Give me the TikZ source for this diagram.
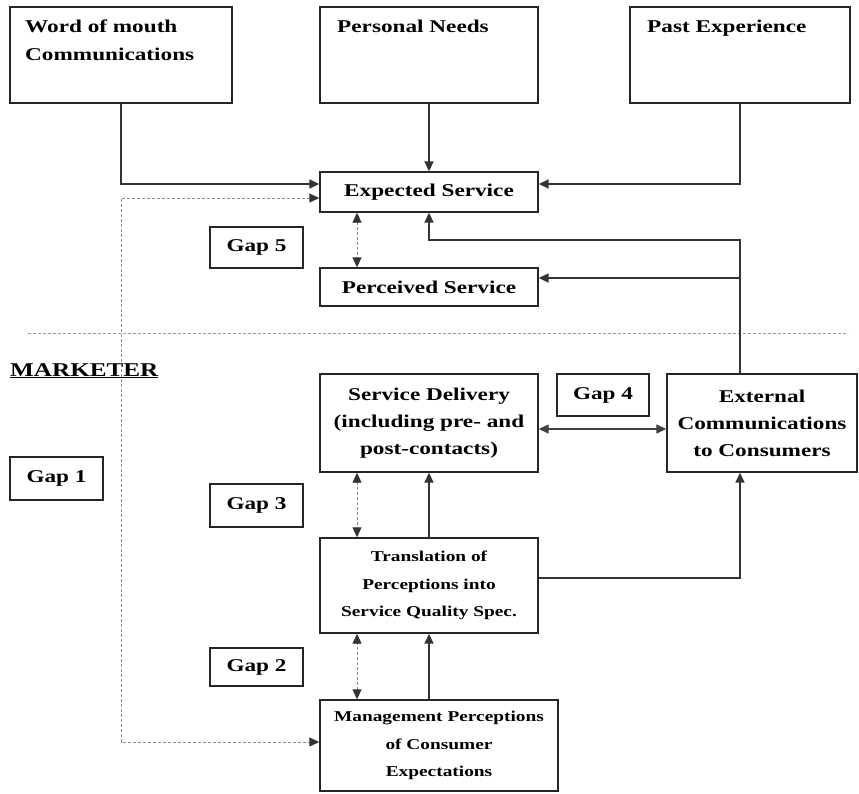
\documentclass[tikz,border=0pt]{standalone}
\usepackage{fontspec}
\setmainfont[FakeStretch=1.29]{Liberation Serif}
\usetikzlibrary{arrows.meta}
\begin{document}
\begin{tikzpicture}[x=1pt,y=-1pt,
  box/.style={draw=black!85, line width=1.4pt, rectangle, inner sep=0pt, align=center,
    font=\bfseries\fontsize{18}{27}\selectfont, text=black},
  smallbox/.style={box, font=\bfseries\fontsize{15}{27.5}\selectfont},
  lbl/.style={inner sep=0pt, align=left, font=\bfseries\fontsize{18}{28}\selectfont, text=black},
  conn/.style={draw=black!80, line width=1.8pt, -{Triangle[length=10pt,width=9pt]}},
  thin/.style={draw=black!75, line width=1.2pt, {Triangle[length=10pt,width=9pt]}-{Triangle[length=10pt,width=9pt]}},
  dotconn/.style={draw=black!45, line width=0.9pt, dash pattern=on 3pt off 2pt, {Triangle[length=10pt,width=9pt,color=black!80]}-{Triangle[length=10pt,width=9pt,color=black!80]}},
  sep/.style={draw=black!40, line width=0.9pt, dash pattern=on 3pt off 2pt}
]
\useasboundingbox (0,0) rectangle (859,793);

% top boxes
\node[box, minimum width=222pt, minimum height=96pt] (wom) at (121,55) {};
\node[box, minimum width=218pt, minimum height=96pt] (pn) at (429,55) {};
\node[box, minimum width=220pt, minimum height=96pt] (pe) at (740,55) {};
\node[lbl, anchor=north west] (womt) at (25,20) {Word of mouth\\Communications};
\node[lbl, anchor=north west] (pnt) at (337,20) {Personal Needs};
\node[lbl, anchor=north west] (pet) at (647,20) {Past Experience};

% consumer side
\node[box, minimum width=218pt, minimum height=40pt] (exp) at (429,192) {Expected Service};
\node[box, minimum width=218pt, minimum height=38pt] (perc) at (429,287) {Perceived Service};
\node[box, minimum width=93pt, minimum height=41pt] (gap5) at (256.5,247.5) {Gap 5};

% separator and label
\draw[sep] (28,333) -- (848,333);
\node[lbl, anchor=base west, font=\bfseries\fontsize{19.5}{24}\selectfont] (mkt) at (10,376) {\underline{MARKETER}};

% marketer side
\node[box, minimum width=218pt, minimum height=98pt] (sd) at (429,423) {Service Delivery\\(including pre- and\\post-contacts)};
\node[box, minimum width=190pt, minimum height=98pt] (ext) at (762,423) {External\\Communications\\to Consumers};
\node[box, minimum width=92pt, minimum height=42pt] (gap4) at (603,395) {Gap 4};
\node[box, minimum width=93pt, minimum height=43pt] (gap1) at (56.5,478.5) {Gap 1};
\node[box, minimum width=93pt, minimum height=43pt] (gap3) at (256.5,505.5) {Gap 3};
\node[smallbox, minimum width=218pt, minimum height=95pt] (tr) at (429,585.5) {Translation of\\Perceptions into\\Service Quality Spec.};
\node[box, minimum width=93pt, minimum height=38pt] (gap2) at (256.5,667) {Gap 2};
\node[smallbox, minimum width=238pt, minimum height=91pt] (mgmt) at (439,745.5) {Management Perceptions\\of Consumer\\Expectations};

% connectors into Expected Service
\draw[conn] (wom.south) |- ([yshift=8pt]exp.west);
\draw[conn] (pn.south) -- (exp.north);
\draw[conn] (pe.south) |- ([yshift=8pt]exp.east);

% Gap 1 dotted loop
\coordinate (g1a) at (121,198);
\coordinate (g1b) at (121,742);
\draw[dotconn] ([yshift=-6pt]exp.west) -- (g1a) -- (g1b) -- ([yshift=3.5pt]mgmt.west);

% Gap 5
\draw[dotconn] ([xshift=-72pt]exp.south) -- ([xshift=-72pt]perc.north);

% External communications feedback
\coordinate (j1) at (740,240);
\coordinate (j2) at (740,278);
\draw[conn] ([xshift=-22pt]ext.north) -- (j1) -| (exp.south);
\draw[conn] (j2) -- ([yshift=9pt]perc.east);

% Gap 4
\draw[thin] ([yshift=-6pt]sd.east) -- ([yshift=-6pt]ext.west);

% Gap 3
\draw[dotconn] ([xshift=-72pt]sd.south) -- ([xshift=-72pt]tr.north);
\draw[conn] (tr.north) -- (sd.south);
\draw[conn] ([yshift=7.5pt]tr.east) -| ([xshift=-22pt]ext.south);

% Gap 2
\draw[dotconn] ([xshift=-72pt]tr.south |- mgmt.north) -- ([xshift=-72pt]tr.south);
\draw[conn] (tr.south |- mgmt.north) -- (tr.south);
\end{tikzpicture}
\end{document}
